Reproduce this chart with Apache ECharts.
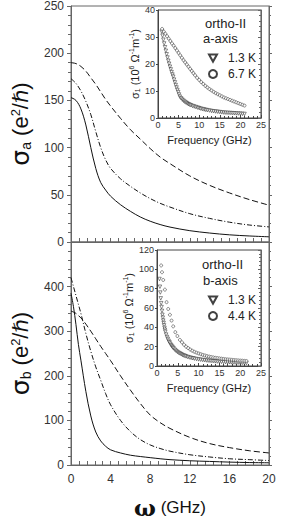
<!DOCTYPE html>
<html><head><meta charset="utf-8">
<script src="https://cdn.jsdelivr.net/npm/echarts@6/dist/echarts.min.js"></script>
<style>html,body{margin:0;padding:0;background:#fff}#c{width:288px;height:520px}</style>
</head><body><div id="c"></div><script>
// ---- main panel (a-axis) ----
const mainFreqA = [0,0.5,1,1.5,2,2.5,3,3.5,4,5,6,7,8,9,10,12,14,16,18,20];
const aSolid    = [153,150,141,124,100,78,63,55,48.5,39.5,32.5,26.5,22,18.5,15.8,12,9.5,7.6,6.4,5.5];
const aDashDot  = [173,168,160,149,135,117,100,87,78,67,59,52,46,41,37,30,25,21,18,16];
const aDashed   = [190,189,186,181,174,167,159,151,144,131,119,109,99,90,83,70,60,52,45,39];
// ---- main panel (b-axis) ----
const mainFreqB = [0,0.25,0.5,0.75,1,1.5,2,2.5,3,3.5,4,5,6,7,8,9,10,12,14,16,18,20];
const bSolid    = [385,355,315,270,235,165,110,74,54,42,34,27,22,19,16.5,14,12,9.5,8,6.5,5.5,5];
const bDashDot  = [420,400,380,360,340,295,255,220,190,160,135,100,75,57,45,37,31,23,18,14,12,10];
const bDashed   = [345,343,340,335,330,316,300,283,266,250,234,200,168,138,112,95,82,62,48,39,32,27];
// ---- inset a-axis ----
const aTriFreq = [0.9,1.1,1.3,1.5,1.7,1.9,2.1,2.3,2.5,2.7,2.9,3.1,3.3,3.5,3.7,3.9,4.1,4.3,4.5,4.7,4.9,5.1,5.3,5.6,5.9,6.2,6.5,6.8,7.1,7.4,7.7,8.0,8.4,8.8,9.2,9.6,10.0,10.4,10.8,11.2,11.6,12.0,12.5,13.0,13.5,14.0,14.5,15.0,15.5,16.0,16.5,17.0,17.5,18.0,18.5,19.0,19.5,20.0,20.5,21.0];
const aTriVal  = [32,30.5,29,27.6,26.2,24.9,23.6,22.4,21.2,20.1,19.0,18.0,17.0,16.1,15.3,14.2,13.2,12.2,11.3,10.4,9.6,8.7,7.9,7.3,6.8,6.4,6.0,5.7,5.4,5.1,4.9,4.7,4.45,4.25,4.05,3.85,3.65,3.45,3.3,3.15,3.0,2.9,2.75,2.6,2.5,2.4,2.3,2.2,2.1,2.0,1.95,1.9,1.85,1.8,1.75,1.7,1.65,1.6,1.55,1.5];
const aCircFreq = [1.0,1.4,1.8,2.2,2.6,3.0,3.4,3.8,4.2,4.6,5.0,5.4,5.8,6.2,6.6,7.0,7.4,7.8,8.2,8.6,9.0,9.5,10.0,10.5,11.0,11.5,12.0,12.5,13.0,13.5,14.0,14.5,15.0,15.5,16.0,16.5,17.0,17.5,18.0,18.5,19.0,19.5,20.0,20.5,21.0];
const aCircVal  = [33,32,31.2,30.3,29.4,28.5,27.6,26.8,25.9,25.0,24.1,23.2,22.3,21.4,20.6,19.8,19.0,18.2,17.4,16.6,15.8,14.9,14.1,13.3,12.6,11.9,11.3,10.7,10.2,9.7,9.2,8.8,8.4,8.0,7.6,7.3,7.0,6.7,6.4,6.1,5.8,5.5,5.2,4.9,4.6];
// ---- inset b-axis ----
const bTriFreq = [0.6,0.7,0.8,0.9,1.0,1.1,1.2,1.3,1.4,1.5,1.6,1.7,1.8,1.9,2.0,2.2,2.4,2.6,2.8,3.0,3.2,3.4,3.6,3.8,4.0,4.3,4.6,4.9,5.2,5.5,5.8,6.1,6.4,6.7,7.0,7.4,7.8,8.2,8.6,9.0,9.5,10.0,10.5,11,11.5,12,12.5,13,13.5,14,14.5,15,15.5,16,16.5,17,17.5,18,18.5,19,19.5,20,20.5,21,21.5];
const bTriVal  = [90,82,76,70,65,61,57,53,50,47,44.5,42,39.5,37.5,35.5,32.5,30,28,26,24.5,23,21.5,20.3,19.2,18.2,16.8,15.6,14.6,13.7,13,12.2,11.5,10.9,10.4,9.9,9.3,8.8,8.4,8,7.6,7.2,6.8,6.5,6.2,5.9,5.6,5.4,5.2,5.0,4.8,4.6,4.5,4.3,4.2,4.0,3.9,3.8,3.7,3.6,3.5,3.4,3.3,3.2,3.1,3.0];
const bCircFreq = [1.0,1.2,1.5,1.9,2.3,2.7,3.1,3.5,3.9,4.4,4.9,5.5,6.0,6.5,7.0,7.5,8.0,8.5,9.0,9.5,10.0,10.5,11.0,11.5,12.0,12.5,13.0,13.5,14.0,14.5,15.0,15.5,16.0,16.5,17.0,17.5,18.0,18.5,19.0,19.5,20.0,20.5,21.0,21.5];
const bCircVal  = [104,97,89,79,66,59,53,47,41,35,31,27,24.5,22,20,18.5,17,15.8,14.7,13.8,13,12.2,11.5,10.9,10.3,9.8,9.3,8.9,8.5,8.2,7.9,7.6,7.3,7.0,6.8,6.6,6.4,6.2,6.0,5.8,5.6,5.5,5.3,5.2];

const zip = (xs, ys) => xs.map((x, i) => [x, ys[i]]);
const FONT = 'Liberation Sans, Arial, sans-serif';
const AX = '#666';
const TXT = '#333';
const TRI = 'path://M0,0L10,0L5,9Z';

function mainX(grid, showLabel, name) {
  return {
    gridIndex: grid, type: 'value', min: 0, max: 20, interval: 4,
    axisLine: {show: true, lineStyle: {color: AX}},
    axisTick: {show: true, inside: true, length: 4, lineStyle: {color: AX}},
    minorTick: {show: true, splitNumber: 5, length: 4, lineStyle: {color: AX}},
    splitLine: {show: false},
    axisLabel: {show: showLabel, fontFamily: FONT, fontSize: 12, color: TXT, margin: 8},
    name: name || '', nameLocation: 'middle', nameGap: 31,
    nameTextStyle: {
      color: '#111',
      rich: {
        w: {fontFamily: 'DejaVu Serif', fontSize: 23, fontWeight: 'bold', color: '#111'},
        g: {fontFamily: FONT, fontSize: 17, color: '#111'}
      }
    }
  };
}
function mainY(grid, max, interval, name, hideTop) {
  return {
    gridIndex: grid, type: 'value', min: 0, max: max, interval: interval,
    axisLine: {show: true, lineStyle: {color: AX}},
    axisTick: {show: true, inside: false, length: 4, lineStyle: {color: AX}},
    minorTick: {show: true, splitNumber: 5, length: 3, lineStyle: {color: AX}},
    splitLine: {show: false},
    axisLabel: {fontFamily: FONT, fontSize: 12, color: TXT, margin: 7,
      formatter: v => (hideTop && v === max) ? '' : String(v)},
    name: name, nameLocation: 'middle', nameGap: 38,
    nameTextStyle: {
      rich: {
        s: {fontFamily: 'DejaVu Sans', fontSize: 25, color: '#111'},
        b: {fontFamily: FONT, fontSize: 14, color: '#111', padding: [10, 0, 0, 0]},
        n: {fontFamily: FONT, fontSize: 22, color: '#111'},
        p: {fontFamily: FONT, fontSize: 13, color: '#111', padding: [0, 0, 10, 0]},
        h: {fontFamily: 'DejaVu Sans', fontSize: 21, fontStyle: 'italic', color: '#111'}
      }
    }
  };
}
function rightY(grid, max, interval, inside, len) {
  return {
    gridIndex: grid, type: 'value', min: 0, max: max, interval: interval, position: 'right',
    axisLine: {show: true, lineStyle: {color: AX}},
    axisTick: {show: true, inside: inside, length: len, lineStyle: {color: AX}},
    minorTick: {show: true, splitNumber: 5, length: len - 1, lineStyle: {color: AX}},
    splitLine: {show: false}, axisLabel: {show: false}
  };
}
function insetX(grid) {
  return {
    gridIndex: grid, type: 'value', min: 0, max: 25, interval: 5,
    axisLine: {show: true, lineStyle: {color: '#444'}},
    axisTick: {show: true, inside: true, length: 3, lineStyle: {color: '#444'}},
    minorTick: {show: true, splitNumber: 5, length: 2, lineStyle: {color: '#444'}},
    splitLine: {show: false},
    axisLabel: {fontFamily: FONT, fontSize: 9, color: TXT, margin: 2},
    name: 'Frequency (GHz)', nameLocation: 'middle', nameGap: 16,
    nameTextStyle: {fontFamily: FONT, fontSize: 11, color: '#222'}
  };
}
const insetYName = '{a|σ}{b|1}{a| (10}{c|6}{a| Ω}{c|-1}{a|m}{c|-1}{a|)}';
function insetY(grid, max, interval, gap) {
  return {
    gridIndex: grid, type: 'value', min: 0, max: max, interval: interval,
    axisLine: {show: true, lineStyle: {color: '#444'}},
    axisTick: {show: true, inside: false, length: 2, lineStyle: {color: '#444'}},
    splitLine: {show: false},
    axisLabel: {fontFamily: FONT, fontSize: 9, color: TXT, margin: 3},
    name: insetYName, nameLocation: 'middle', nameGap: gap,
    nameTextStyle: {
      rich: {
        a: {fontFamily: FONT, fontSize: 11, color: '#222'},
        b: {fontFamily: FONT, fontSize: 7, color: '#222', padding: [6, 0, 0, 0]},
        c: {fontFamily: FONT, fontSize: 7, color: '#222', padding: [0, 0, 6, 0]}
      }
    }
  };
}
function line(xi, yi, data, type) {
  return {type: 'line', xAxisIndex: xi, yAxisIndex: yi, data: data, smooth: 0.35,
    showSymbol: false, silent: true,
    lineStyle: {color: '#111', width: 1, type: type}};
}
function scat(name, xi, yi, data, symbol, size) {
  return {type: 'scatter', name: name, xAxisIndex: xi, yAxisIndex: yi, data: data,
    symbol: symbol, symbolSize: size, silent: true, z: 5,
    itemStyle: {color: '#fff', borderColor: '#111', borderWidth: 0.6}};
}
function legendAt(top, names) {
  return {
    data: names, left: 203, top: top, orient: 'vertical', itemGap: 4,
    itemWidth: 8, itemHeight: 8, selectedMode: false,
    textStyle: {fontFamily: FONT, fontSize: 12, color: '#222', padding: [0, 0, 0, 6]}
  };
}
const chart = echarts.init(document.getElementById('c'), null, {renderer: 'svg'});
chart.setOption({
  animation: false,
  backgroundColor: '#fff',
  grid: [
    {left: 64, top: 5, width: 205, height: 237, show: true, borderColor: AX, borderWidth: 1},
    {left: 64, top: 242, width: 205, height: 236, show: true, borderColor: AX, borderWidth: 1},
    {left: 158, top: 10, width: 103, height: 108, show: true, backgroundColor: '#fff', borderColor: '#444', borderWidth: 1},
    {left: 157, top: 250, width: 104, height: 116, show: true, backgroundColor: '#fff', borderColor: '#444', borderWidth: 1}
  ],
  xAxis: [
    mainX(0, false),
    mainX(1, true, '{w|ω}{g| (GHz)}'),
    insetX(2),
    insetX(3)
  ],
  yAxis: [
    mainY(0, 250, 50, '{s|σ}{b|a}{n| (e}{p|2}{n|/}{h|ℏ}{n|)}', false),
    rightY(0, 250, 50, false, 3),
    mainY(1, 500, 100, '{s|σ}{b|b}{n| (e}{p|2}{n|/}{h|ℏ}{n|)}', true),
    rightY(1, 500, 100, false, 3),
    insetY(2, 40, 10, 11),
    rightY(2, 40, 10, true, 3),
    insetY(3, 120, 20, 16),
    rightY(3, 120, 20, true, 3)
  ],
  legend: [
    legendAt(47, ['1.3 K', '6.7 K']),
    legendAt(289, ['1.3 K', '4.4 K'])
  ],
  graphic: [
    {type: 'text', left: 205, top: 17, z: 100, style: {text: 'ortho-II', font: '13px ' + FONT, fill: '#222'}},
    {type: 'text', left: 203, top: 32, z: 100, style: {text: 'a-axis', font: '13px ' + FONT, fill: '#222'}},
    {type: 'text', left: 202, top: 258, z: 100, style: {text: 'ortho-II', font: '13px ' + FONT, fill: '#222'}},
    {type: 'text', left: 203, top: 274, z: 100, style: {text: 'b-axis', font: '13px ' + FONT, fill: '#222'}}
  ],
  series: [
    line(0, 0, zip(mainFreqA, aSolid), 'solid'),
    line(0, 0, zip(mainFreqA, aDashDot), [5, 2, 1, 2]),
    line(0, 0, zip(mainFreqA, aDashed), [6, 3]),
    line(1, 2, zip(mainFreqB, bSolid), 'solid'),
    line(1, 2, zip(mainFreqB, bDashDot), [5, 2, 1, 2]),
    line(1, 2, zip(mainFreqB, bDashed), [6, 3]),
    scat('1.3 K', 2, 4, zip(aTriFreq, aTriVal), TRI, [3.5, 3.5]),
    scat('6.7 K', 2, 4, zip(aCircFreq, aCircVal), 'circle', 3),
    scat('1.3 K', 3, 6, zip(bTriFreq, bTriVal), TRI, [3.5, 3.5]),
    scat('4.4 K', 3, 6, zip(bCircFreq, bCircVal), 'circle', 3)
  ]
});
</script></body></html>
